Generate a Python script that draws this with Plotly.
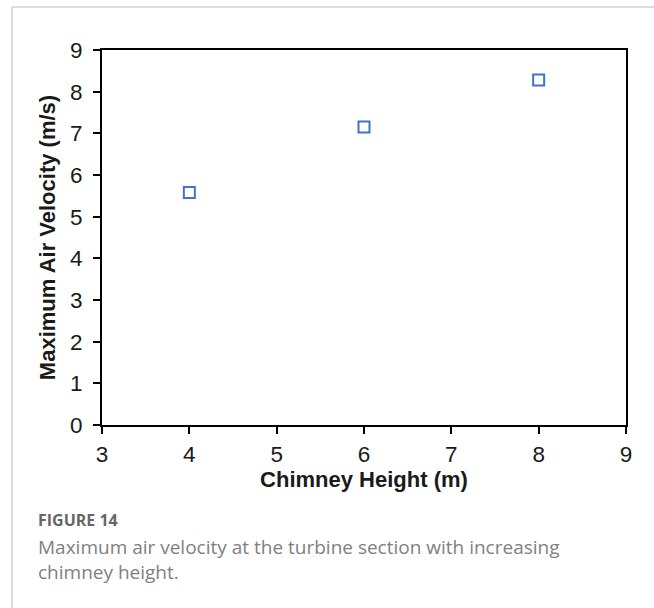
import plotly.graph_objects as go

# Chimney height (m) vs. maximum air velocity at the turbine section (m/s)
chimney_height = [4, 6, 8]
max_velocity = [5.58, 7.15, 8.28]

x_ticks = [3, 4, 5, 6, 7, 8, 9]
y_ticks = [0, 1, 2, 3, 4, 5, 6, 7, 8, 9]

W, H = 654, 608
L, R, T, B = 102, 28, 50, 183
pw, ph = W - L - R, H - T - B


def px(x):
    return (x - L) / pw


def py(y):
    return (H - B - y) / ph


fig = go.Figure()
fig.add_trace(go.Scatter(
    x=chimney_height, y=max_velocity, mode="markers",
    marker=dict(symbol="square-open", size=11, color="#4472C4",
                line=dict(width=2, color="#4472C4")),
    showlegend=False, hoverinfo="x+y",
))

sans = "Liberation Sans, Arial, sans-serif"
axis_common = dict(
    showgrid=False, zeroline=False, showline=True, linecolor="black",
    linewidth=2, mirror=True, ticks="outside", ticklen=7, tickwidth=1.5,
    tickcolor="black",
    tickfont=dict(family=sans, size=22.5, color="#1a1a1a"),
)

fig.update_xaxes(
    range=[3, 9], tickvals=x_ticks, ticklabelstandoff=1,
    title=dict(text="<b>Chimney Height (m)</b>", standoff=3,
               font=dict(family=sans, size=22, color="#1a1a1a")),
    **axis_common,
)
fig.update_yaxes(
    range=[0, 9], tickvals=y_ticks, ticklabelstandoff=6,
    title=dict(text="<b>Maximum Air Velocity (m/s)</b>", standoff=8,
               font=dict(family=sans, size=22, color="#1a1a1a")),
    **axis_common,
)

# Page frame lines (top and left)
frame = dict(color="#d0d0d0", width=1.5)
fig.add_shape(type="line", xref="paper", yref="paper",
              x0=px(12), x1=px(W + 2), y0=py(7), y1=py(7), line=frame)
fig.add_shape(type="line", xref="paper", yref="paper",
              x0=px(12), x1=px(12), y0=py(7), y1=py(H + 2), line=frame)

# Caption
cap_font = "Open Sans, Noto Sans, sans-serif"
fig.add_annotation(xref="paper", yref="paper", x=px(36), y=py(520),
                   xanchor="left", yanchor="middle", showarrow=False,
                   text="<b>FIGURE 14</b>",
                   font=dict(family=cap_font, size=16, color="#666666"))
fig.add_annotation(xref="paper", yref="paper", x=px(36), y=py(547),
                   xanchor="left", yanchor="middle", showarrow=False,
                   text="Maximum air velocity at the turbine section with increasing",
                   font=dict(family=cap_font, size=19, color="#808080"))
fig.add_annotation(xref="paper", yref="paper", x=px(36), y=py(572),
                   xanchor="left", yanchor="middle", showarrow=False,
                   text="chimney height.",
                   font=dict(family=cap_font, size=19, color="#808080"))

fig.update_layout(
    width=W, height=H, margin=dict(l=L, r=R, t=T, b=B),
    paper_bgcolor="white", plot_bgcolor="white",
)

fig.write_html("out.html")
